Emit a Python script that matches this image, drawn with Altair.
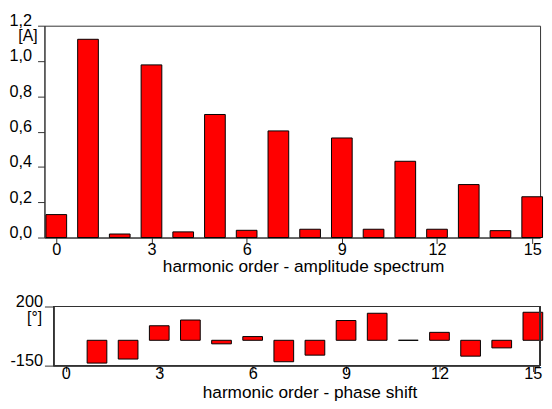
import altair as alt
import pandas as pd

# ---- data ----
harmonics = list(range(16))
amplitude = [0.13, 1.123, 0.02, 0.978, 0.032, 0.697, 0.041, 0.604,
             0.047, 0.564, 0.047, 0.432, 0.047, 0.30, 0.039, 0.231]
phase_harmonics = list(range(1, 16))
phase = [-135, -111, 86, 120, -21, 22, -127, -88, 117, 160, 0, 47, -94, -45, 166]
x_ticks = [0, 3, 6, 9, 12, 15]
amp_ticks = [0.0, 0.2, 0.4, 0.6, 0.8, 1.0, 1.2]
phase_ticks = [-150, 200]
amp_x_domain = [-0.373, 15.248]
phase_x_domain = [-0.687, 15.231]
phase_frame_x = [-0.392, 15.225]
phase_y_domain = [-150, 200]

FONT = "Liberation Sans"
DARK = "#333333"

amp_df = pd.DataFrame({"harmonic": harmonics, "amplitude": amplitude})
phase_df = pd.DataFrame({"harmonic": phase_harmonics, "phase": phase})

top = alt.Chart(amp_df).mark_bar(
    size=21, color="#ff0000", stroke="#000000", strokeWidth=1
).encode(
    x=alt.X("harmonic:Q",
            scale=alt.Scale(domain=amp_x_domain, nice=False, zero=False, padding=0),
            axis=alt.Axis(values=x_ticks, format="d",
                          title="harmonic order - amplitude spectrum",
                          tickSize=6, labelPadding=11, labelBaseline="alphabetic",
                          labelFlush=False, labelOverlap=False, grid=False,
                          titleX=262.5, titleY=34.7, titleAlign="center",
                          titleBaseline="alphabetic", titleFontSize=17.5,
                          titleFontWeight="normal")),
    y=alt.Y("amplitude:Q",
            scale=alt.Scale(domain=[0, 1.2], nice=False, padding=0),
            axis=alt.Axis(values=amp_ticks,
                          labelExpr="replace(format(datum.value, '.1f'), '.', ',')",
                          tickSize=7, labelPadding=6, labelBaseline="alphabetic",
                          labelFlush=False, labelOverlap=False, grid=False,
                          title="[A]", titleAngle=0, titleX=-17.3, titleY=15,
                          titleAlign="center", titleBaseline="alphabetic",
                          titleFontSize=16, titleFontWeight="normal")),
).properties(width=503, height=215)

phase_bars = alt.Chart(phase_df).mark_bar(
    size=20, color="#ff0000", stroke="#000000", strokeWidth=1
).encode(
    x=alt.X("harmonic:Q",
            scale=alt.Scale(domain=phase_x_domain, nice=False, zero=False, padding=0),
            axis=alt.Axis(values=x_ticks, format="d",
                          title="harmonic order - phase shift", domain=False,
                          tickSize=6, labelPadding=7, labelBaseline="alphabetic",
                          labelFlush=False, labelOverlap=False, grid=False,
                          titleX=269, titleY=32.2, titleAlign="center",
                          titleBaseline="alphabetic", titleFontSize=17.5,
                          titleFontWeight="normal")),
    y=alt.Y("phase:Q",
            scale=alt.Scale(domain=phase_y_domain, nice=False, zero=False, padding=0),
            axis=alt.Axis(values=phase_ticks, labelExpr="'' + datum.value",
                          offset=-9.3, domain=False,
                          tickSize=9.3, labelPadding=2, labelBaseline="alphabetic",
                          labelFlush=False, labelOverlap=False, grid=False,
                          title="[°]", titleAngle=0, titleX=-19.8, titleY=15.8,
                          titleAlign="center", titleBaseline="alphabetic",
                          titleFontSize=16, titleFontWeight="normal")),
)

phase_frame = alt.Chart(phase_df).mark_rect(
    fillOpacity=0, stroke=DARK, strokeWidth=1
).encode(
    x=alt.datum(phase_frame_x[0]),
    x2=alt.datum(phase_frame_x[1]),
    y=alt.datum(phase_y_domain[0]),
    y2=alt.datum(phase_y_domain[1]),
)

bottom = alt.layer(phase_bars, phase_frame).properties(
    width=503, height=60, view=alt.ViewBackground(stroke="transparent")
)

chart = alt.vconcat(top, bottom, spacing=17).properties(
    padding={"left": 0, "top": 1, "right": 0, "bottom": 0}
).configure(
    font=FONT
).configure_view(
    stroke=DARK, strokeWidth=1
).configure_axis(
    labelFont=FONT, titleFont=FONT, labelFontSize=16.5, labelColor="#000000",
    titleColor="#000000", domainColor=DARK, tickColor=DARK, domainWidth=1,
    tickWidth=1
)

chart.save("out.html", embed_options={"renderer": "svg", "actions": False})
